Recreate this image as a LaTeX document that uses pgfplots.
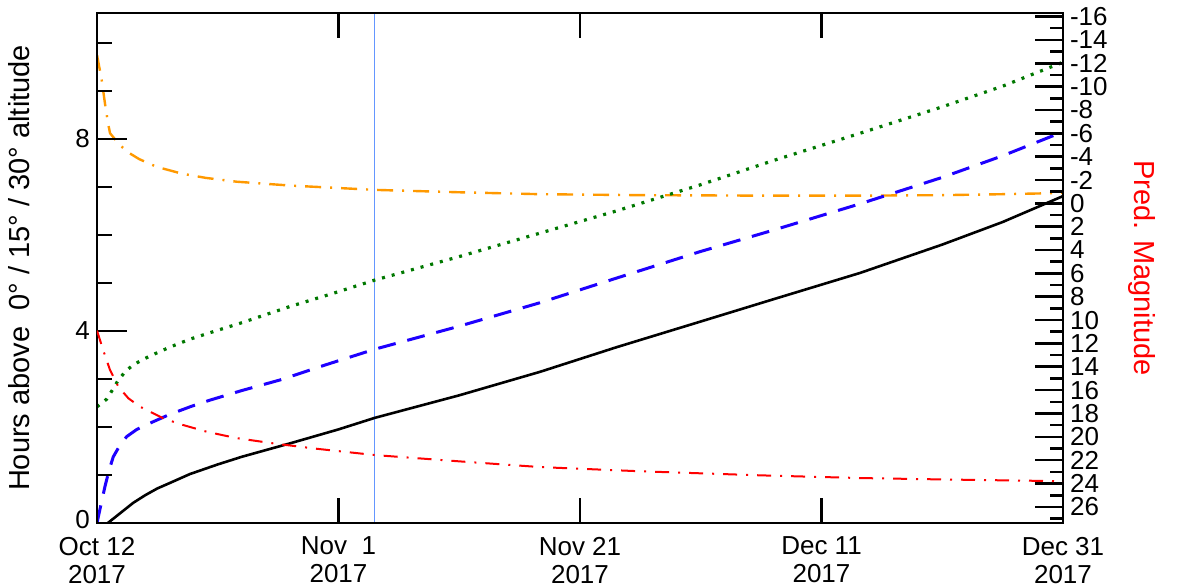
\documentclass[border=0pt]{standalone}
\usepackage{fontspec}
\setmainfont{Liberation Sans}
\usepackage{pgfplots}
\pgfplotsset{compat=1.18}

\definecolor{orangeline}{RGB}{255,153,0}
\definecolor{greenline}{RGB}{0,120,0}
\definecolor{blueline}{RGB}{30,0,255}
\definecolor{nowline}{RGB}{100,150,255}

\pgfplotsset{
  common/.style={
    scale only axis, width=483pt, height=255pt,
    xmin=0, xmax=80,
    axis line style={line width=1.3pt},
    tick style={line width=1.3pt, black},
    tick align=inside,
    tick label style={font=\fontsize{13}{14}\selectfont},
    label style={font=\fontsize{14.5}{16}\selectfont},
  },
}

\begin{document}
\begin{tikzpicture}
% x axis (days since Oct 12 2017) and the hour curves
\begin{axis}[common,
    ymin=0, ymax=10.625, ytick=\empty,
    xtick={0,20,40,60,80},
    xticklabels={{Oct 12\\2017},{Nov\ \ 1\\2017},{Nov 21\\2017},{Dec 11\\2017},{Dec 31\\2017}},
    xticklabel style={align=center, yshift=-3.5pt},
    major tick length=12.5pt,
]
\addplot[nowline, line width=0.7pt] coordinates {(23,0) (23,10.625)};
% orange
\addplot[orangeline, line width=1.2pt, dash pattern=on 8pt off 4.5pt on 1pt off 4.5pt] coordinates {
 (0,9.75) (0.39,9.23) (0.66,8.74) (0.9,8.35) (1.08,8.12) (1.77,7.91) (2.46,7.74)
 (3.5,7.58) (4.94,7.42) (7,7.28) (9,7.19) (11.57,7.11) (16,7.03) (23,6.94)
 (30,6.89) (36.7,6.85) (45,6.83) (55,6.82) (63.2,6.82) (70,6.83) (75,6.85) (80,6.875)};
% green dotted
\addplot[greenline, line width=1.6pt, dash pattern=on 1.5pt off 3.5pt] coordinates {
 (0,2.42) (0.4,2.5) (0.8,2.58) (1.3,2.78) (1.77,2.98) (2.3,3.14) (2.87,3.27)
 (3.6,3.38) (4.39,3.48) (6,3.66) (7.7,3.83) (9.8,4.0) (11.84,4.16) (15.98,4.51)
 (19.5,4.78) (23,5.06) (30,5.55) (36.7,6.04) (43,6.5) (49.9,7.04) (56,7.55)
 (63.2,8.12) (70,8.67) (75,9.1) (80,9.6)};
% blue dashed
\addplot[blueline, line width=1.5pt, dash pattern=on 9pt off 6pt] coordinates {
 (0,0) (0.3,0.35) (0.66,0.76) (1.0,1.1) (1.35,1.38) (1.9,1.62) (2.46,1.80)
 (3.3,1.95) (4.39,2.08) (6,2.26) (7.7,2.42) (9.36,2.56) (12,2.76) (15.16,2.98)
 (19,3.3) (23,3.62) (30,4.1) (36.7,4.59) (43,5.1) (49.9,5.65) (56,6.1)
 (63.2,6.65) (70,7.2) (75,7.65) (80,8.15)};
% black solid
\addplot[black, line width=1.3pt] coordinates {
 (0.9,0) (1.5,0.12) (2.2,0.26) (3,0.42) (4,0.58) (5,0.72) (6,0.83) (7.7,1.02)
 (10,1.22) (12,1.38) (16,1.66) (20,1.95) (23,2.19) (30,2.66) (36.7,3.15)
 (43,3.66) (49.9,4.19) (56,4.66) (63.2,5.21) (70,5.8) (75,6.27) (80,6.81)};
\end{axis}
% left hours axis
\begin{axis}[common,
    ymin=0, ymax=10.625, xtick=\empty,
    ytick={0,4,8}, yticklabels={\raisebox{3.5pt}{0},4,8},
    minor ytick={1,2,3,5,6,7,9,10},
    ytick pos=left,
    major tick length=15pt, minor tick length=7.5pt,
    ylabel={Hours above\ \ 0° / 15° / 30° altitude},
    ylabel shift=16pt,
]
\end{axis}
% right magnitude axis
\begin{axis}[common,
    ymin=-16.3, ymax=27.38, y dir=reverse, xtick=\empty,
    ytick={-16,-14,...,26},
    yticklabels={-16,-14,-12,-10,-8,-6,-4,-2,0,2,4,6,8,10,12,14,16,18,20,22,24,26},
    minor ytick={-15,-13,...,27},
    ytick pos=right, yticklabel pos=right,
    major tick length=14pt, minor tick length=6.5pt,
    ylabel={Pred. Magnitude},
    ylabel style={red, rotate=180},
    ylabel shift=3.5pt,
]
\addplot[red, line width=1pt, dash pattern=on 7pt off 4.5pt on 1pt off 4.5pt] coordinates {
 (0,10.9) (0.52,12.6) (1.08,14.28) (1.77,15.71) (2.6,16.7) (3.56,17.42) (5.49,18.42)
 (7,18.95) (9.08,19.56) (11.5,20.1) (14.6,20.56) (18,21.0) (23,21.56) (30,22.1)
 (36.7,22.59) (45,22.95) (55,23.3) (63.2,23.53) (70,23.65) (80,23.8)};
\end{axis}
\pgfresetboundingbox
\path[use as bounding box] (-48.5pt,-32.5pt) rectangle (540pt,261.5pt);
\end{tikzpicture}
\end{document}
